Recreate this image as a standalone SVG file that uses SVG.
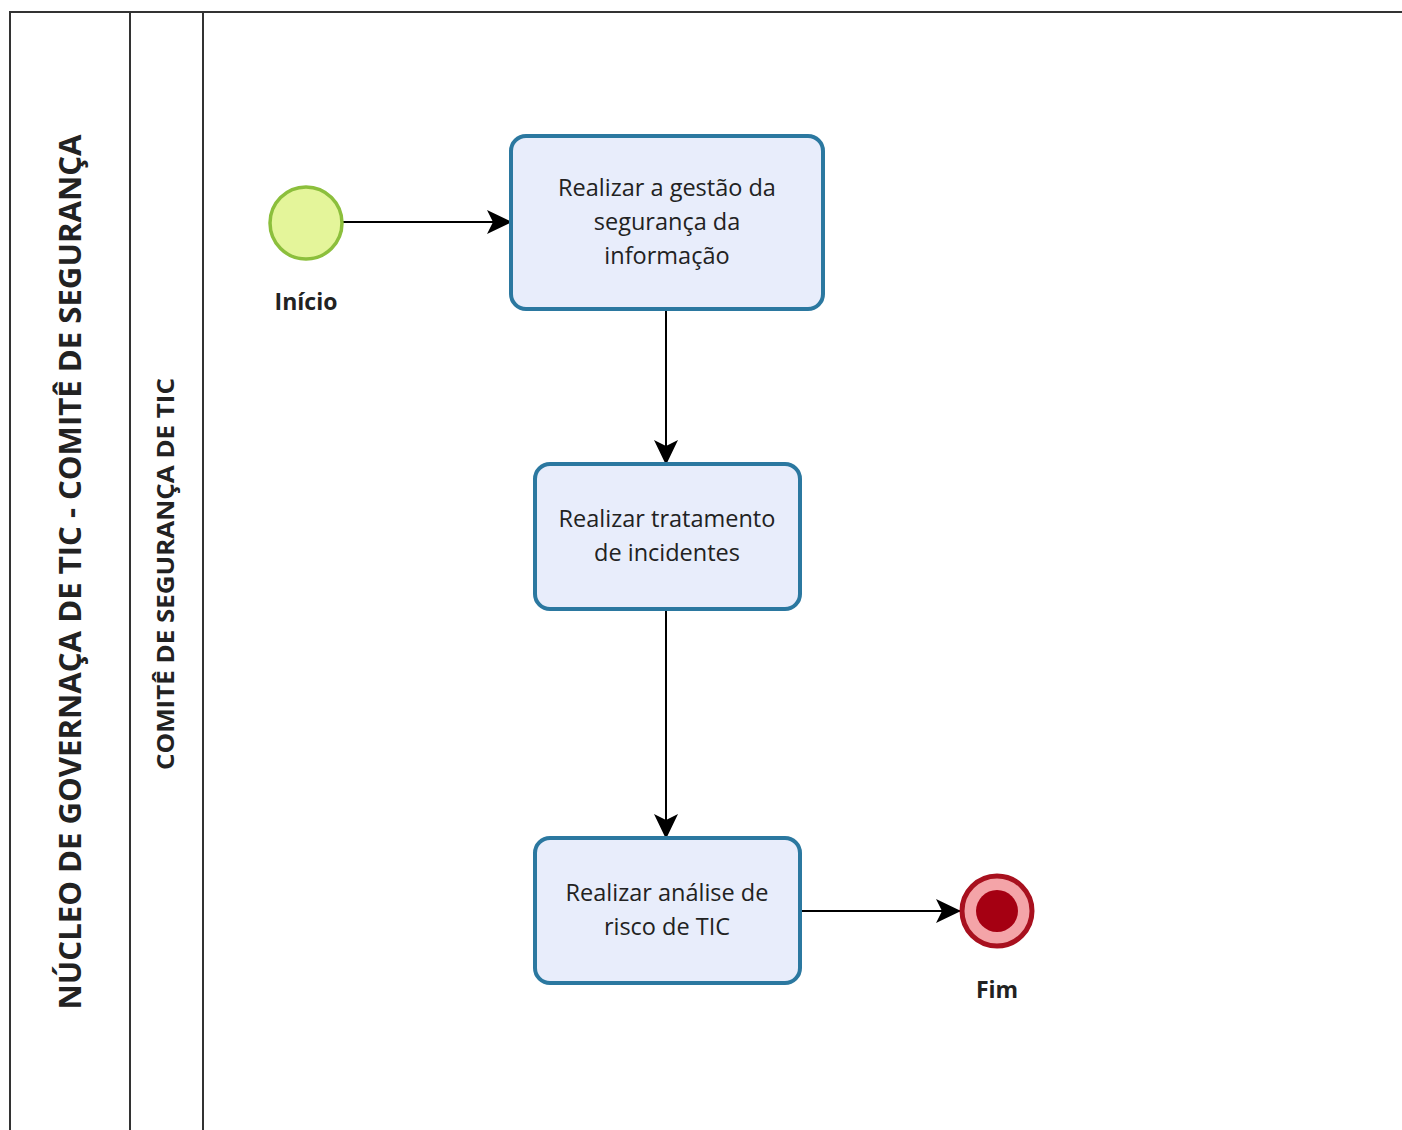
<svg xmlns="http://www.w3.org/2000/svg" width="1402" height="1130" viewBox="0 0 1402 1130">
<style>
.lane{fill:none;stroke:#333;stroke-width:2}
.task{fill:#e8edfb;stroke:#2b78a0;stroke-width:4}
.tt{font-family:"Open Sans","Noto Sans",sans-serif;font-size:23.5px;fill:#222;text-anchor:middle}
.lbl{font-family:"Open Sans","Noto Sans",sans-serif;font-size:23px;font-weight:700;fill:#222;text-anchor:middle}
.pool{font-family:"Open Sans","Noto Sans",sans-serif;font-weight:700;fill:#222;text-anchor:middle}
.flow{fill:none;stroke:#000;stroke-width:2}
</style>
<defs>
<marker id="arr2" markerWidth="26" markerHeight="26" refX="24" refY="13" orient="auto" markerUnits="userSpaceOnUse" viewBox="0 0 26 26">
<path d="M0,1 L25,13 L0,25 L6,13 Z" fill="#000"/>
</marker>
</defs>
<rect width="1402" height="1130" fill="#fff"/>
<g id="pool">
<rect class="lane" x="10" y="12" width="1400" height="1130"/>
<line class="lane" x1="130" y1="12" x2="130" y2="1130"/>
<line class="lane" x1="203" y1="12" x2="203" y2="1130"/>
<text class="pool" style="font-size:30px" transform="translate(81,572) rotate(-90)" textLength="875" lengthAdjust="spacingAndGlyphs">NÚCLEO DE GOVERNAÇA DE TIC - COMITÊ DE SEGURANÇA</text>
<text class="pool" style="font-size:23px" transform="translate(174,574) rotate(-90)" textLength="392" lengthAdjust="spacingAndGlyphs">COMITÊ DE SEGURANÇA DE TIC</text>
</g>
<g id="connectors">
<line class="flow" x1="343" y1="222" x2="511" y2="222" marker-end="url(#arr2)"/>
<line class="flow" x1="666" y1="310" x2="666" y2="464" marker-end="url(#arr2)"/>
<line class="flow" x1="666" y1="609" x2="666" y2="838" marker-end="url(#arr2)"/>
<line class="flow" x1="800" y1="911" x2="960" y2="911" marker-end="url(#arr2)"/>
</g>
<g id="start">
<circle cx="306" cy="223" r="36" fill="#e4f59a" stroke="#8cbf3c" stroke-width="3.5"/>
<text class="lbl" x="306" y="310">Início</text>
</g>
<g id="task1">
<rect class="task" x="511" y="136" width="312" height="173" rx="15"/>
<text class="tt" x="667" y="196">Realizar a gestão da</text>
<text class="tt" x="667" y="230">segurança da</text>
<text class="tt" x="667" y="264">informação</text>
</g>
<g id="task2">
<rect class="task" x="535" y="464" width="265" height="145" rx="15"/>
<text class="tt" x="667" y="527">Realizar tratamento</text>
<text class="tt" x="667" y="561">de incidentes</text>
</g>
<g id="task3">
<rect class="task" x="535" y="838" width="265" height="145" rx="15"/>
<text class="tt" x="667" y="901">Realizar análise de</text>
<text class="tt" x="667" y="935">risco de TIC</text>
</g>
<g id="end">
<circle cx="997" cy="911" r="35" fill="#f4a4a8" stroke="#a8101e" stroke-width="5"/>
<circle cx="997" cy="911" r="21" fill="#a50012"/>
<text class="lbl" x="997" y="998">Fim</text>
</g>
</svg>
